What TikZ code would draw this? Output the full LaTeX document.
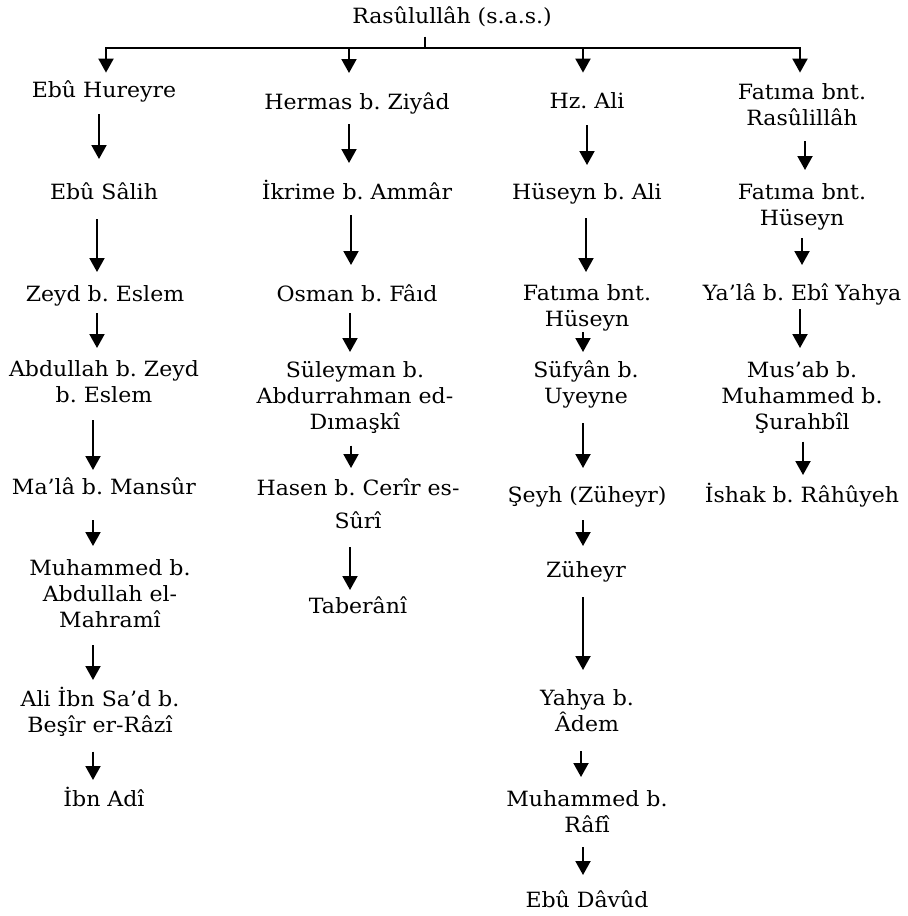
\documentclass[tikz,border=0pt]{standalone}
\usepackage{fontspec}
\setmainfont{DejaVu Serif}[FakeStretch=1.05]
\usetikzlibrary{arrows.meta}
\tikzset{
    ravi/.style={anchor=base,align=center,text width=4.5cm,inner sep=0pt,outer sep=0pt,text height=8pt,
        font=\fontsize{10.5}{13}\selectfont\frenchspacing},
    cizgi/.style={line width=1pt},
    ok/.style={cizgi,-{Triangle[width=7.5pt,length=7pt]}}
}

\begin{document}
\begin{tikzpicture}[x=0.5pt,y=-0.5pt]
    \useasboundingbox (0,0) rectangle (907,916);
    \node [ravi] (rasul) at (452,23) {Rasûlullâh (s.a.s.)};
    \coordinate (bar) at (425,47.5);
    % first column
    \node [ravi] (hureyre) at (104,97) {Ebû Hureyre};
    \node [ravi] (salih) at (104,199) {Ebû Sâlih};
    \node [ravi] (zeyd) at (105,301) {Zeyd b. Eslem};
    \node [ravi] (abdullah) at (104,376) {Abdullah b. Zeyd\\b. Eslem};
    \node [ravi] (malla) at (104,494) {Ma’lâ b. Mansûr};
    \node [ravi] (mahrami) at (110,575) {Muhammed b.\\Abdullah el-\\Mahramî};
    \node [ravi] (razi) at (100,706) {Ali İbn Sa’d b.\\Beşîr er-Râzî};
    \node [ravi] (adi) at (104,806) {İbn Adî};
    % second column
    \node [ravi] (hermas) at (357,109) {Hermas b. Ziyâd};
    \node [ravi] (ikrime) at (357,199) {İkrime b. Ammâr};
    \node [ravi] (osman) at (357,301) {Osman b. Fâıd};
    \node [ravi] (suleyman) at (355,377) {Süleyman b.\\Abdurrahman ed-\\Dımaşkî};
    \node [ravi] (hasen) at (358,495) {Hasen b. Cerîr es-\\[3.5pt]Sûrî};
    \node [ravi] (taberani) at (358,613) {Taberânî};
    % third column
    \node [ravi] (ali) at (587,108) {Hz. Ali};
    \node [ravi] (huseyn) at (587,199) {Hüseyn b. Ali};
    \node [ravi] (fatimaH) at (587,300) {Fatıma bnt.\\Hüseyn};
    \node [ravi] (sufyan) at (586,377) {Süfyân b.\\Uyeyne};
    \node [ravi] (seyh) at (587,502) {Şeyh (Züheyr)};
    \node [ravi] (zuheyr) at (586,577) {Züheyr};
    \node [ravi] (yahya) at (587,705) {Yahya b.\\Âdem};
    \node [ravi] (rafi) at (587,806) {Muhammed b.\\Râfî};
    \node [ravi] (davud) at (587,907) {Ebû Dâvûd};
    % fourth column
    \node [ravi] (fatimaR) at (802,99) {Fatıma bnt.\\Rasûlillâh};
    \node [ravi] (fatimaHu) at (802,199) {Fatıma bnt.\\Hüseyn};
    \node [ravi] (yala) at (802,300) {Ya’lâ b. Ebî Yahya};
    \node [ravi] (musab) at (802,377) {Mus’ab b.\\Muhammed b.\\Şurahbîl};
    \node [ravi] (ishak) at (802,502) {İshak b. Râhûyeh};

    \draw [cizgi,shorten <=5.2pt] (rasul.south -| bar) -- (bar);
    \draw [cizgi,line cap=rect] ([xshift=1pt]hureyre.north |- bar) -- ([xshift=-1pt]fatimaR.north |- bar);
    \foreach \n/\dx/\e in {hureyre/1pt/4.2pt, hermas/-4pt/10pt, ali/-2pt/9.7pt, fatimaR/-1pt/5.2pt} {
        \draw [ok,shorten >=\e] ([xshift=\dx]\n.north |- bar) -- ([xshift=\dx]\n.north);
    }
    \foreach \a/\b/\dx/\s/\e in {
        hureyre/salih/-2.5pt/6.2pt/12pt, salih/zeyd/-3.5pt/10pt/6.5pt,
        zeyd/abdullah/-4pt/3.7pt/6pt, abdullah/malla/-5.5pt/9pt/4pt,
        malla/mahrami/-5.5pt/13pt/6.5pt, mahrami/razi/-8.5pt/9pt/5pt,
        razi/adi/-3.5pt/7.8pt/5pt,
        hermas/ikrime/-4pt/5.2pt/10pt, ikrime/osman/-3pt/8pt/10pt,
        osman/suleyman/-3.5pt/6pt/4.5pt, suleyman/hasen/-2pt/6.3pt/5.5pt,
        hasen/taberani/-4pt/9.5pt/3.5pt,
        ali/huseyn/0pt/8.5pt/9pt, huseyn/fatimaH/-0.5pt/7.2pt/6pt,
        fatimaH/sufyan/-2pt/0.7pt/4.5pt, sufyan/seyh/-1.5pt/7.7pt/9pt,
        seyh/zuheyr/-2pt/6.7pt/7.5pt, zuheyr/yahya/-1.5pt/7.7pt/9.5pt,
        yahya/rafi/-3pt/10pt/6.5pt, rafi/davud/-2pt/7.5pt/8pt,
        fatimaR/fatimaHu/1.5pt/8pt/6.5pt, fatimaHu/yala/0pt/4.2pt/9.5pt,
        yala/musab/-1pt/2.2pt/6.5pt, musab/ishak/0.5pt/4.3pt/5.5pt} {
        \draw [ok,shorten <=\s,shorten >=\e] ([xshift=\dx]\a.south) -- ([xshift=\dx]\a.south |- \b.north);
    }
\end{tikzpicture}
\end{document}
